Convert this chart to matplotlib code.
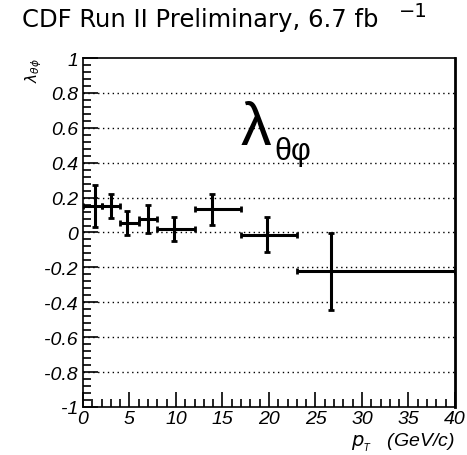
import matplotlib
matplotlib.use('Agg')
import matplotlib.pyplot as plt
from matplotlib.ticker import MultipleLocator, FixedFormatter, FixedLocator

# pT bins and measured lambda_theta_phi
bin_lo = [0, 2, 4, 6, 8, 12, 17, 23]
bin_hi = [2, 4, 6, 8, 12, 17, 23, 40]
pt_mean = [1.3, 3.0, 4.7, 7.0, 9.8, 13.9, 19.8, 26.7]
lam = [0.15, 0.15, 0.053, 0.076, 0.019, 0.133, -0.013, -0.223]
lam_err = [0.12, 0.068, 0.07, 0.08, 0.068, 0.09, 0.1, 0.22]

yticks = [-1, -0.8, -0.6, -0.4, -0.2, 0, 0.2, 0.4, 0.6, 0.8, 1]
ytick_labels = ['-1', '-0.8', '-0.6', '-0.4', '-0.2', '0', '0.2', '0.4', '0.6', '0.8', '1']
xticks = [0, 5, 10, 15, 20, 25, 30, 35, 40]
xtick_labels = ['0', '5', '10', '15', '20', '25', '30', '35', '40']

plt.rcParams['font.family'] = ['Liberation Sans', 'DejaVu Sans']

fig = plt.figure(figsize=(4.67, 4.56), dpi=100)
ax = fig.add_axes([0.1777, 0.1053, 0.7966, 0.7653])

xerr_lo = [m - lo for m, lo in zip(pt_mean, bin_lo)]
xerr_hi = [hi - m for m, hi in zip(pt_mean, bin_hi)]
ax.errorbar(pt_mean, lam, xerr=[xerr_lo, xerr_hi], yerr=lam_err, fmt='none',
            ecolor='black', elinewidth=2.2, capsize=2, capthick=2, zorder=3)

ax.set_xlim(0, 40)
ax.set_ylim(-1, 1)
ax.yaxis.set_major_locator(FixedLocator(yticks))
ax.yaxis.set_major_formatter(FixedFormatter(ytick_labels))
ax.yaxis.set_minor_locator(MultipleLocator(0.04))
ax.xaxis.set_major_locator(FixedLocator(xticks))
ax.xaxis.set_major_formatter(FixedFormatter(xtick_labels))
ax.xaxis.set_minor_locator(MultipleLocator(1))
ax.tick_params(which='both', direction='in', top=False, right=False, width=1.2)
ax.tick_params(which='major', length=11, labelsize=14)
ax.tick_params(axis='x', which='major', pad=2)
ax.tick_params(axis='y', which='major', pad=3.5)
ax.tick_params(which='minor', length=6)
for lbl in ax.get_xticklabels() + ax.get_yticklabels():
    lbl.set_fontstyle('italic')

for y in yticks[1:-1]:
    ax.axhline(y, color='black', linestyle=(0, (1, 2.5)), linewidth=1.0, zorder=1)

for side in ['left', 'bottom', 'top']:
    ax.spines[side].set_linewidth(1.2)
ax.spines['right'].set_linewidth(2.0)

fig.text(0.047, 0.94, 'CDF Run II Preliminary, 6.7 fb', fontsize=17.5,
         family='DejaVu Sans', ha='left', va='baseline')
fig.text(0.855, 0.963, '\u22121', fontsize=14, family='DejaVu Sans',
         ha='left', va='baseline')
fig.text(0.515, 0.682, 'λ', fontsize=44, ha='left', va='baseline')
fig.text(0.587, 0.649, 'θφ', fontsize=22, ha='left', va='baseline')
fig.text(0.072, 0.845, r'$\lambda_{\theta\phi}$', rotation=90, fontsize=11,
         ha='center', va='center')
fig.text(0.974, 0.022, r'$p_{_T}$   (GeV/c)', fontsize=14, fontstyle='italic',
         ha='right', va='baseline')

fig.savefig('out.png', dpi=100)
